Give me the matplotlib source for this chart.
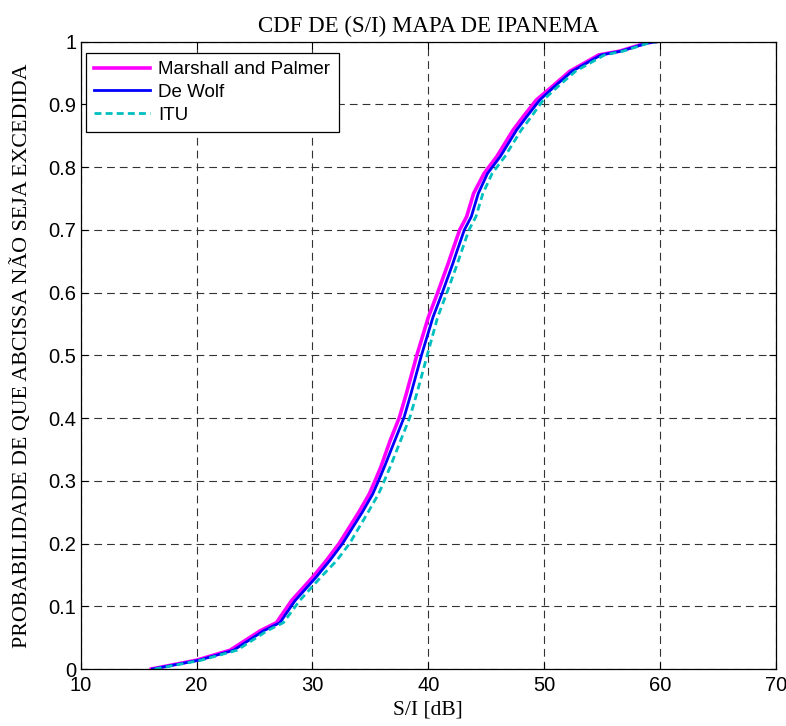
import matplotlib
matplotlib.use('Agg')
import matplotlib.pyplot as plt

# niveis de probabilidade (comuns as tres curvas)
prob = [0.0, 0.014, 0.03, 0.061, 0.074, 0.109, 0.146, 0.173, 0.2, 0.25,
        0.279, 0.3, 0.322, 0.364, 0.401, 0.439, 0.5, 0.561, 0.6, 0.646, 0.668,
        0.70, 0.721, 0.758, 0.79, 0.817, 0.859, 0.881, 0.907, 0.929, 0.953,
        0.979, 0.985, 0.998, 1.0]

# S/I [dB] para cada modelo de chuva
si_marshall = [16.1, 20.0, 22.9, 25.5, 26.9, 28.2, 30.0, 31.2, 32.3, 34.0,
               34.9, 35.4, 35.9, 36.7, 37.5, 38.1, 39.0, 40.0, 40.8, 41.7, 42.1,
               42.7, 43.3, 43.9, 44.8, 45.9, 47.3, 48.2, 49.3, 50.7, 52.2,
               54.7, 56.5, 58.8, 59.6]
si_dewolf = [16.2, 20.2, 23.2, 25.8, 27.2, 28.5, 30.3, 31.5, 32.6, 34.3,
             35.2, 35.7, 36.2, 37.1, 37.9, 38.5, 39.4, 40.4, 41.2, 42.1, 42.5,
             43.1, 43.7, 44.3, 45.1, 46.2, 47.6, 48.5, 49.6, 50.9, 52.4,
             54.9, 56.6, 58.9, 59.6]
si_itu = [16.4, 20.4, 23.5, 26.1, 27.5, 28.9, 30.7, 32.1, 33.2, 34.8,
          35.7, 36.2, 36.7, 37.6, 38.4, 39.0, 39.9, 40.8, 41.6, 42.5, 42.9,
          43.5, 44.1, 44.7, 45.5, 46.6, 48.0, 48.9, 49.9, 51.2, 52.7,
          55.2, 56.8, 59.0, 59.8]

fig = plt.figure(figsize=(7.86, 7.26), dpi=100)
ax = fig.add_axes([0.1025, 0.0785, 0.885, 0.864])

ax.plot(si_marshall, prob, color='#ff00ff', lw=2.6, label='Marshall and Palmer')
ax.plot(si_dewolf, prob, color='#0000ff', lw=2.0, label='De Wolf')
ax.plot(si_itu, prob, color='#00bfbf', lw=2.0, ls=(0, (2.5, 1.5)), label='ITU')

ax.set_xlim(10, 70)
ax.set_ylim(0, 1)
ax.set_xticks(range(10, 71, 10))
ax.set_yticks([i / 10 for i in range(11)])
ax.set_yticklabels(['0', '0.1', '0.2', '0.3', '0.4', '0.5', '0.6', '0.7',
                    '0.8', '0.9', '1'])

ax.grid(True, color='#333333', lw=0.8, ls=(0, (7, 4.5)))
ax.tick_params(direction='in', top=True, right=True, length=5, width=0.8,
               labelsize=14.5)
ax.tick_params(axis='x', pad=5)
ax.tick_params(axis='y', pad=3)
for lab in ax.get_xticklabels() + ax.get_yticklabels():
    lab.set_family('Liberation Sans')
for s in ax.spines.values():
    s.set_linewidth(0.9)

ax.set_title('CDF DE (S/I) MAPA DE IPANEMA', family='Liberation Serif',
             fontsize=16.5, pad=7)
ax.set_xlabel('S/I [dB]', family='Liberation Serif', fontsize=15.5, labelpad=4)
ax.set_ylabel('PROBABILIDADE DE QUE ABCISSA NÃO SEJA EXCEDIDA',
              family='Liberation Serif', fontsize=15.8, labelpad=12)

leg = ax.legend(loc='upper left', bbox_to_anchor=(0.0078, 0.9825),
                prop={'family': 'Liberation Sans', 'size': 13.5},
                fancybox=False, framealpha=1, edgecolor='black',
                borderaxespad=0, handlelength=2.95, handletextpad=0.45,
                labelspacing=0.3, borderpad=0.45)
leg.get_frame().set_linewidth(0.9)

fig.savefig('out.png', dpi=100)
